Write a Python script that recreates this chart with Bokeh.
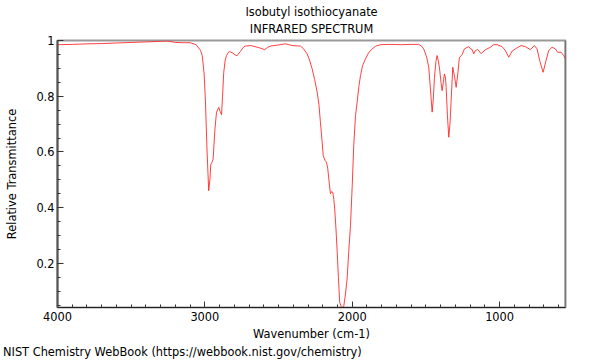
from bokeh.plotting import figure
from bokeh.models import Range1d, FixedTicker, Span, Title, Div
from bokeh.layouts import column
from bokeh.embed import file_html
from bokeh.resources import INLINE

# ---- texts ----
title_line1 = "Isobutyl isothiocyanate"
title_line2 = "INFRARED SPECTRUM"
x_label = "Wavenumber (cm-1)"
y_label = "Relative Transmittance"
footer = "NIST Chemistry WebBook (https://webbook.nist.gov/chemistry)"

# ---- data ----
wavenumber = [
    4000, 3900, 3800, 3700, 3600, 3500, 3400, 3300, 3250, 3200, 3150, 3100,
    3060, 3030, 3018, 3005, 2996, 2985, 2974, 2966, 2960, 2950, 2944, 2932,
    2921, 2906, 2896, 2887, 2880, 2872, 2862, 2853, 2840, 2831, 2810, 2795,
    2781, 2760, 2740, 2725, 2690, 2645, 2620, 2594, 2575, 2555, 2500, 2453,
    2430, 2408, 2351, 2330, 2306, 2290, 2272, 2255, 2238, 2226, 2216, 2205,
    2197, 2185, 2175, 2166, 2159, 2148, 2140, 2132, 2125, 2119, 2110, 2102,
    2094, 2085, 2073, 2058, 2046, 2035, 2024, 2012, 2000, 1990, 1978, 1967,
    1955, 1944, 1930, 1910, 1890, 1865, 1840, 1809, 1750, 1673, 1600, 1549,
    1530, 1515, 1495, 1481, 1470, 1458, 1450, 1442, 1432, 1424, 1415, 1406,
    1398, 1390, 1382, 1375, 1368, 1363, 1354, 1345, 1337, 1329, 1322, 1318,
    1305, 1295, 1284, 1273, 1254, 1239, 1210, 1197, 1187, 1176, 1164, 1149,
    1126, 1096, 1062, 1041, 1017, 983, 961, 938, 915, 893, 854, 825, 791,
    764, 746, 728, 705, 685, 667, 644, 622, 606, 583, 565, 553,
]
transmittance = [
    0.985, 0.986, 0.988, 0.989, 0.991, 0.993, 0.995, 0.997, 0.998, 0.993, 0.992, 0.992,
    0.985, 0.965, 0.946, 0.880, 0.780, 0.600, 0.461, 0.500, 0.555, 0.565, 0.575, 0.680,
    0.743, 0.760, 0.745, 0.734, 0.800, 0.886, 0.930, 0.946, 0.958, 0.960, 0.955, 0.948,
    0.946, 0.960, 0.975, 0.980, 0.982, 0.976, 0.972, 0.967, 0.975, 0.980, 0.984, 0.988,
    0.985, 0.982, 0.980, 0.970, 0.952, 0.930, 0.898, 0.860, 0.814, 0.770, 0.707, 0.640,
    0.587, 0.570, 0.563, 0.540, 0.503, 0.450, 0.458, 0.455, 0.430, 0.396, 0.320, 0.240,
    0.150, 0.060, 0.042, 0.045, 0.090, 0.144, 0.240, 0.336, 0.480, 0.623, 0.730, 0.778,
    0.835, 0.874, 0.910, 0.934, 0.955, 0.970, 0.980, 0.985, 0.986, 0.985, 0.986, 0.986,
    0.980, 0.970, 0.940, 0.904, 0.830, 0.743, 0.790, 0.868, 0.925, 0.946, 0.925, 0.892,
    0.850, 0.820, 0.850, 0.880, 0.870, 0.832, 0.730, 0.653, 0.700, 0.785, 0.860, 0.904,
    0.868, 0.832, 0.880, 0.938, 0.950, 0.970, 0.978, 0.970, 0.968, 0.952, 0.964, 0.968,
    0.953, 0.967, 0.976, 0.985, 0.985, 0.978, 0.964, 0.940, 0.962, 0.970, 0.982, 0.978, 0.967,
    0.982, 0.970, 0.928, 0.886, 0.928, 0.964, 0.976, 0.970, 0.958, 0.958, 0.946, 0.934,
]

x_major = [1000, 2000, 3000, 4000]
x_minor = list(range(600, 4001, 100))
y_major = [0.2, 0.4, 0.6, 0.8, 1.0]
y_minor = [round(0.05 * i, 2) for i in range(1, 21)]

X_START, X_END = 4000, 553
Y_START, Y_END = 0.042, 1.0

FONT = "DejaVu Sans"
FS = "11.4px"

p = figure(
    width=600, height=345,
    x_range=Range1d(X_START, X_END), y_range=Range1d(Y_START, Y_END),
    output_backend="svg", toolbar_location=None,
    min_border_left=57, min_border_right=35, min_border_top=40, min_border_bottom=38,
)
p.xgrid.visible = False
p.ygrid.visible = False
p.outline_line_color = "#999999"
p.outline_line_width = 2
p.background_fill_color = "white"
p.border_fill_color = "white"

xa = p.xaxis[0]
xa.ticker = FixedTicker(ticks=x_major, minor_ticks=x_minor)
xa.axis_label = x_label
ya = p.yaxis[0]
ya.ticker = FixedTicker(ticks=y_major, minor_ticks=y_minor)
ya.axis_label = y_label
ya.major_label_overrides = {1: "1"}

for ax in (xa, ya):
    ax.major_tick_in = 6
    ax.major_tick_out = 0
    ax.minor_tick_in = 3
    ax.minor_tick_out = 0
    ax.major_tick_line_color = "#333333"
    ax.minor_tick_line_color = "#333333"
    ax.major_label_text_font = FONT
    ax.major_label_text_font_size = FS
    ax.major_label_text_color = "#000000"
    ax.axis_label_text_font = FONT
    ax.axis_label_text_font_size = FS
    ax.axis_label_text_font_style = "normal"
    ax.axis_label_text_color = "#000000"

xa.major_label_standoff = 4
xa.axis_line_color = "#222222"
xa.axis_line_width = 1
xa.axis_label_standoff = 3
ya.major_label_standoff = 3
ya.axis_line_color = "#555555"
ya.axis_line_width = 2
ya.axis_label_standoff = 14

p.line(wavenumber, transmittance, line_color="#ff2020", line_width=1, line_alpha=0.85)

p.add_layout(Span(location=X_END, dimension="height", line_color="#555555", line_width=1.5))

# titles: first added sits nearest the frame
p.add_layout(Title(text=title_line2, align="center", vertical_align="middle", standoff=6.5,
                   text_font=FONT, text_font_size=FS, text_font_style="normal",
                   text_color="#000000"), "above")
p.add_layout(Title(text=title_line1, align="center", vertical_align="middle", standoff=-5.5,
                   text_font=FONT, text_font_size=FS, text_font_style="normal",
                   text_color="#000000"), "above")

foot = Div(text=footer, width=420, height=14, margin=(0, 0, 0, 3),
           styles={"font-family": FONT, "font-size": FS, "line-height": "14px",
                   "color": "#000000", "white-space": "nowrap"})

layout = column(p, foot, spacing=0)

open("out.html", "w").write(file_html(layout, INLINE))
